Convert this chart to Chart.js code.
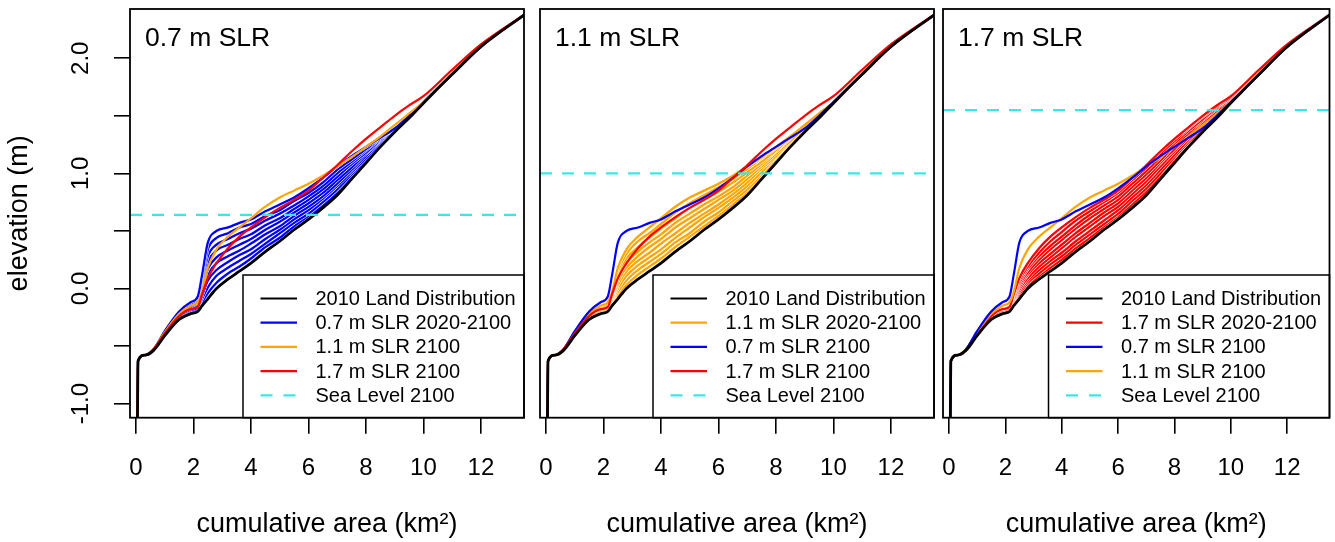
<!DOCTYPE html>
<html>
<head>
<meta charset="utf-8">
<script src="https://cdn.jsdelivr.net/npm/chart.js@4.4.1/dist/chart.umd.min.js"></script>
<style>
  body { margin: 0; background: #fff; }
  canvas { position: absolute; top: 0; }
</style>
</head>
<body>
<canvas id="p1" width="530" height="542" style="left:0px"></canvas>
<canvas id="p2" width="410" height="542" style="left:530px"></canvas>
<canvas id="p3" width="395" height="542" style="left:940px"></canvas>
<script>
// cumulative area (km2) where each curve is sampled
var area = [0.05, 0.07, 0.3, 0.6, 1.0, 1.5, 1.9, 2.15, 2.3, 2.5, 2.8, 3.2, 3.6, 4.0, 4.5, 5.0,
  5.5, 6.0, 6.5, 7.0, 7.5, 8.0, 8.5, 9.0, 9.5, 10.0, 11.0, 12.0, 13.52];

var years = [2020, 2030, 2040, 2050, 2060, 2070, 2080, 2090, 2100];

// elevation (m)
var land2010 = [-1.12, -0.63, -0.58, -0.54, -0.41, -0.27, -0.22, -0.20, -0.15, -0.09, 0.00, 0.08, 0.15, 0.22, 0.32, 0.41,
  0.51, 0.60, 0.70, 0.81, 0.95, 1.09, 1.23, 1.36, 1.48, 1.61, 1.86, 2.10, 2.38];

// 0.7 m SLR, one row per year (2020 ... 2100)
var slr07 = [
  [-1.12, -0.63, -0.58, -0.54, -0.41, -0.26, -0.21, -0.19, -0.12, -0.04, 0.05, 0.13, 0.19, 0.26, 0.36, 0.44, 0.54, 0.63, 0.72, 0.83, 0.97, 1.10, 1.24, 1.37, 1.48, 1.61, 1.86, 2.10, 2.38],
  [-1.12, -0.63, -0.58, -0.54, -0.40, -0.26, -0.20, -0.17, -0.09, 0.01, 0.11, 0.18, 0.24, 0.30, 0.39, 0.48, 0.57, 0.65, 0.75, 0.86, 0.99, 1.12, 1.25, 1.37, 1.49, 1.61, 1.86, 2.10, 2.38],
  [-1.12, -0.63, -0.58, -0.54, -0.40, -0.25, -0.19, -0.16, -0.06, 0.07, 0.16, 0.23, 0.29, 0.34, 0.43, 0.51, 0.60, 0.68, 0.78, 0.89, 1.01, 1.13, 1.26, 1.38, 1.49, 1.62, 1.86, 2.10, 2.38],
  [-1.12, -0.63, -0.58, -0.54, -0.39, -0.24, -0.18, -0.14, -0.03, 0.12, 0.22, 0.28, 0.33, 0.39, 0.47, 0.54, 0.63, 0.71, 0.80, 0.91, 1.03, 1.15, 1.27, 1.38, 1.49, 1.62, 1.86, 2.10, 2.38],
  [-1.12, -0.63, -0.58, -0.54, -0.39, -0.23, -0.17, -0.13, 0.00, 0.17, 0.27, 0.33, 0.38, 0.43, 0.51, 0.58, 0.66, 0.74, 0.83, 0.94, 1.05, 1.17, 1.28, 1.38, 1.49, 1.62, 1.86, 2.10, 2.38],
  [-1.12, -0.63, -0.58, -0.54, -0.39, -0.23, -0.16, -0.11, 0.03, 0.23, 0.33, 0.38, 0.43, 0.47, 0.55, 0.61, 0.69, 0.77, 0.86, 0.97, 1.08, 1.18, 1.29, 1.39, 1.49, 1.62, 1.86, 2.10, 2.38],
  [-1.12, -0.63, -0.58, -0.54, -0.38, -0.22, -0.15, -0.10, 0.06, 0.28, 0.38, 0.43, 0.48, 0.52, 0.59, 0.65, 0.72, 0.80, 0.89, 1.00, 1.10, 1.20, 1.30, 1.39, 1.50, 1.62, 1.86, 2.10, 2.38],
  [-1.12, -0.63, -0.58, -0.54, -0.38, -0.21, -0.13, -0.08, 0.09, 0.34, 0.44, 0.48, 0.53, 0.56, 0.63, 0.68, 0.76, 0.83, 0.92, 1.03, 1.12, 1.21, 1.31, 1.39, 1.50, 1.62, 1.86, 2.10, 2.38],
  [-1.12, -0.63, -0.58, -0.53, -0.37, -0.20, -0.12, -0.07, 0.12, 0.40, 0.50, 0.53, 0.57, 0.60, 0.67, 0.73, 0.79, 0.87, 0.96, 1.06, 1.15, 1.23, 1.31, 1.39, 1.50, 1.62, 1.86, 2.10, 2.38]
];

// 1.1 m SLR, one row per year (2020 ... 2100)
var slr11 = [
  [-1.12, -0.63, -0.58, -0.54, -0.41, -0.26, -0.21, -0.19, -0.14, -0.06, 0.03, 0.12, 0.19, 0.26, 0.36, 0.45, 0.54, 0.63, 0.73, 0.84, 0.97, 1.11, 1.24, 1.37, 1.48, 1.61, 1.86, 2.10, 2.38],
  [-1.12, -0.63, -0.58, -0.54, -0.40, -0.26, -0.21, -0.18, -0.12, -0.03, 0.07, 0.16, 0.23, 0.30, 0.40, 0.48, 0.58, 0.66, 0.76, 0.86, 0.99, 1.12, 1.25, 1.37, 1.49, 1.61, 1.86, 2.10, 2.38],
  [-1.12, -0.63, -0.58, -0.54, -0.40, -0.25, -0.20, -0.17, -0.11, 0.00, 0.11, 0.20, 0.27, 0.34, 0.44, 0.53, 0.62, 0.70, 0.79, 0.89, 1.01, 1.14, 1.26, 1.38, 1.49, 1.62, 1.86, 2.10, 2.38],
  [-1.12, -0.63, -0.58, -0.54, -0.40, -0.25, -0.19, -0.17, -0.10, 0.03, 0.15, 0.24, 0.31, 0.39, 0.48, 0.57, 0.65, 0.73, 0.82, 0.92, 1.04, 1.15, 1.27, 1.39, 1.50, 1.62, 1.86, 2.10, 2.38],
  [-1.12, -0.63, -0.58, -0.54, -0.39, -0.24, -0.18, -0.16, -0.09, 0.06, 0.18, 0.28, 0.36, 0.43, 0.53, 0.61, 0.69, 0.77, 0.85, 0.95, 1.06, 1.17, 1.28, 1.40, 1.50, 1.62, 1.86, 2.10, 2.38],
  [-1.12, -0.63, -0.58, -0.54, -0.39, -0.24, -0.17, -0.15, -0.07, 0.09, 0.22, 0.32, 0.40, 0.47, 0.57, 0.65, 0.73, 0.80, 0.88, 0.98, 1.08, 1.19, 1.30, 1.41, 1.51, 1.62, 1.87, 2.10, 2.38],
  [-1.12, -0.63, -0.58, -0.54, -0.39, -0.23, -0.17, -0.14, -0.06, 0.12, 0.26, 0.36, 0.44, 0.52, 0.61, 0.70, 0.77, 0.84, 0.92, 1.01, 1.10, 1.20, 1.31, 1.41, 1.51, 1.62, 1.87, 2.10, 2.38],
  [-1.12, -0.63, -0.58, -0.54, -0.38, -0.23, -0.16, -0.13, -0.04, 0.15, 0.30, 0.41, 0.48, 0.56, 0.66, 0.74, 0.81, 0.88, 0.95, 1.04, 1.13, 1.22, 1.32, 1.42, 1.51, 1.62, 1.87, 2.10, 2.38],
  [-1.12, -0.63, -0.58, -0.53, -0.38, -0.22, -0.15, -0.12, -0.03, 0.18, 0.34, 0.45, 0.53, 0.61, 0.71, 0.79, 0.85, 0.91, 0.98, 1.06, 1.14, 1.23, 1.32, 1.42, 1.52, 1.62, 1.87, 2.10, 2.38]
];

// 1.7 m SLR, one row per year (2020 ... 2100)
var slr17 = [
  [-1.12, -0.63, -0.58, -0.54, -0.41, -0.27, -0.22, -0.20, -0.14, -0.07, 0.02, 0.11, 0.18, 0.25, 0.35, 0.44, 0.54, 0.63, 0.73, 0.84, 0.97, 1.11, 1.25, 1.38, 1.49, 1.62, 1.86, 2.10, 2.38],
  [-1.12, -0.63, -0.58, -0.54, -0.41, -0.26, -0.21, -0.19, -0.13, -0.05, 0.05, 0.13, 0.21, 0.28, 0.38, 0.47, 0.56, 0.65, 0.76, 0.87, 1.00, 1.14, 1.27, 1.39, 1.51, 1.63, 1.87, 2.10, 2.38],
  [-1.12, -0.63, -0.58, -0.54, -0.40, -0.26, -0.21, -0.19, -0.12, -0.03, 0.07, 0.16, 0.24, 0.31, 0.41, 0.50, 0.59, 0.68, 0.79, 0.90, 1.03, 1.16, 1.29, 1.41, 1.52, 1.64, 1.87, 2.11, 2.38],
  [-1.12, -0.63, -0.58, -0.54, -0.40, -0.26, -0.20, -0.18, -0.11, -0.01, 0.09, 0.19, 0.27, 0.35, 0.45, 0.54, 0.63, 0.71, 0.82, 0.93, 1.06, 1.19, 1.31, 1.42, 1.53, 1.64, 1.88, 2.11, 2.38],
  [-1.12, -0.63, -0.58, -0.54, -0.40, -0.25, -0.20, -0.18, -0.10, 0.01, 0.12, 0.22, 0.30, 0.38, 0.48, 0.57, 0.66, 0.74, 0.85, 0.96, 1.09, 1.21, 1.33, 1.44, 1.54, 1.65, 1.88, 2.11, 2.38],
  [-1.12, -0.63, -0.58, -0.54, -0.40, -0.25, -0.19, -0.17, -0.09, 0.03, 0.14, 0.25, 0.34, 0.42, 0.52, 0.61, 0.69, 0.77, 0.88, 0.99, 1.11, 1.24, 1.35, 1.46, 1.56, 1.65, 1.89, 2.11, 2.38],
  [-1.12, -0.63, -0.58, -0.54, -0.39, -0.25, -0.19, -0.17, -0.07, 0.05, 0.17, 0.28, 0.37, 0.45, 0.55, 0.64, 0.72, 0.80, 0.91, 1.02, 1.14, 1.26, 1.37, 1.47, 1.57, 1.66, 1.89, 2.12, 2.38],
  [-1.12, -0.63, -0.58, -0.54, -0.39, -0.24, -0.18, -0.16, -0.06, 0.07, 0.19, 0.31, 0.41, 0.49, 0.59, 0.67, 0.75, 0.83, 0.94, 1.05, 1.17, 1.28, 1.39, 1.49, 1.58, 1.66, 1.90, 2.12, 2.38],
  [-1.12, -0.63, -0.58, -0.53, -0.39, -0.24, -0.18, -0.16, -0.05, 0.09, 0.22, 0.35, 0.45, 0.53, 0.62, 0.70, 0.77, 0.85, 0.96, 1.07, 1.19, 1.30, 1.40, 1.50, 1.59, 1.67, 1.90, 2.12, 2.38]
];

var seaLevel2100 = [0.64, 1.0, 1.55];
var panelNames = ['0.7 m SLR', '1.1 m SLR', '1.7 m SLR'];
var xTicks = [0, 2, 4, 6, 8, 10, 12];
var yTicks = [-1, -0.5, 0, 0.5, 1, 1.5, 2];

var X_MIN = -0.21, X_MAX = 13.5, Y_MIN = -1.123, Y_MAX = 2.428;
var FONT = "'Liberation Sans', Arial, sans-serif";
var BLUE = '#0000FF', ORANGE = '#FFA500', RED = '#FF0000', CYAN = '#3DE6E6', BLACK = '#000000';
var LAST = years.length - 1;

Chart.defaults.font.family = FONT;
Chart.defaults.color = '#000';

function pts(ys) {
  return area.map(function (x, i) { return { x: x, y: ys[i] }; });
}

function curve(ys, color, width, order) {
  return {
    data: pts(ys), borderColor: color, borderWidth: width, order: order,
    pointRadius: 0, fill: false, cubicInterpolationMode: 'monotone'
  };
}

function seaLine(level) {
  return {
    data: [{ x: X_MIN, y: level }, { x: X_MAX, y: level }],
    borderColor: CYAN, borderWidth: 2.2, borderDash: [12, 10], order: 0,
    pointRadius: 0, fill: false
  };
}

// one line per year, each with a thin white edge so the lines stay apart
function fan(rows, color) {
  var out = [];
  rows.forEach(function (r, i) {
    var o = 20 + 2 * (rows.length - i);
    out.push(curve(r, '#ffffff', 3.4, o + 1));
    out.push(curve(r, color, 2.3, o));
  });
  return out;
}

// legend box, panel name and frame
function decor(name, items) {
  return {
    id: 'decor',
    afterDatasetsDraw: function (chart) {
      var ctx = chart.ctx, a = chart.chartArea;
      var lx = a.right - 281, ly = 275;
      ctx.save();
      ctx.fillStyle = '#fff';
      ctx.fillRect(lx, ly, a.right - lx, a.bottom - ly);
      ctx.strokeStyle = '#000';
      ctx.lineWidth = 1.5;
      ctx.strokeRect(lx, ly, a.right - lx, a.bottom - ly);
      ctx.font = '20px ' + FONT;
      ctx.textBaseline = 'middle';
      items.forEach(function (it, i) {
        var y = ly + 23.5 + i * 24.2;
        ctx.strokeStyle = it[1];
        ctx.lineWidth = 2.2;
        ctx.setLineDash(it[2] ? [12, 11] : []);
        ctx.beginPath();
        ctx.moveTo(lx + 17.5, y);
        ctx.lineTo(lx + 54, y);
        ctx.stroke();
        ctx.setLineDash([]);
        ctx.fillStyle = '#000';
        ctx.fillText(it[0], lx + 72.5, y + 1);
      });
      ctx.fillStyle = '#000';
      ctx.font = '26.5px ' + FONT;
      ctx.textBaseline = 'alphabetic';
      ctx.fillText(name, a.left + 15, a.top + 37);
      ctx.strokeStyle = '#000';
      ctx.lineWidth = 1.8;
      ctx.strokeRect(a.left, a.top, a.right - a.left, a.bottom - a.top);
      ctx.restore();
    }
  };
}

function makePanel(id, name, datasets, items, padding, showY) {
  var yScale = { type: 'linear', min: Y_MIN, max: Y_MAX, display: false };
  if (showY) {
    yScale = {
      type: 'linear', min: Y_MIN, max: Y_MAX,
      afterBuildTicks: function (s) { s.ticks = yTicks.map(function (v) { return { value: v }; }); },
      afterFit: function (s) { s.width = 130; s.paddingTop = 0; s.paddingBottom = 0; },
      grid: { drawOnChartArea: false, color: '#000', lineWidth: 1.6, tickLength: 16 },
      border: { display: false },
      ticks: {
        font: { size: 24 }, padding: 12, autoSkip: false, minRotation: 90, maxRotation: 90,
        crossAlign: 'center',
        callback: function (v) { return v % 1 === 0 ? v.toFixed(1) : ''; }
      },
      title: { display: true, text: 'elevation (m)', font: { size: 27 }, padding: { top: 3 } }
    };
  }
  return new Chart(document.getElementById(id), {
    type: 'line',
    data: { datasets: datasets },
    options: {
      responsive: false, animation: false, devicePixelRatio: 1,
      layout: { padding: padding },
      plugins: { legend: { display: false }, tooltip: { enabled: false } },
      scales: {
        x: {
          type: 'linear', min: X_MIN, max: X_MAX,
          afterBuildTicks: function (s) { s.ticks = xTicks.map(function (v) { return { value: v }; }); },
          afterFit: function (s) { s.height = 124.3; s.paddingLeft = 0; s.paddingRight = 0; },
          grid: { drawOnChartArea: false, color: '#000', lineWidth: 1.6, tickLength: 16 },
          border: { display: false },
          ticks: { font: { size: 24 }, padding: 20, autoSkip: false, maxRotation: 0 },
          title: { display: true, text: 'cumulative area (km²)', font: { size: 27 }, padding: { bottom: 1 } }
        },
        y: yScale
      }
    },
    plugins: [decor(name, items)]
  });
}

// panel 1: 0.7 m SLR
makePanel('p1', panelNames[0],
  [seaLine(seaLevel2100[0]), curve(land2010, BLACK, 2.8, 1),
   curve(slr17[LAST], RED, 2.2, 2), curve(slr11[LAST], ORANGE, 2.2, 3)].concat(fan(slr07, BLUE)),
  [['2010 Land Distribution', BLACK], ['0.7 m SLR 2020-2100', BLUE], ['1.1 m SLR 2100', ORANGE],
   ['1.7 m SLR 2100', RED], ['Sea Level 2100', CYAN, true]],
  { left: 0, right: 6, top: 9, bottom: 0 }, true);

// panel 2: 1.1 m SLR
makePanel('p2', panelNames[1],
  [seaLine(seaLevel2100[1]), curve(land2010, BLACK, 2.8, 1),
   curve(slr17[LAST], RED, 2.2, 2), curve(slr07[LAST], BLUE, 2.2, 3)].concat(fan(slr11, ORANGE)),
  [['2010 Land Distribution', BLACK], ['1.1 m SLR 2020-2100', ORANGE], ['0.7 m SLR 2100', BLUE],
   ['1.7 m SLR 2100', RED], ['Sea Level 2100', CYAN, true]],
  { left: 10, right: 6, top: 9, bottom: 0 }, false);

// panel 3: 1.7 m SLR
makePanel('p3', panelNames[2],
  [seaLine(seaLevel2100[2]), curve(land2010, BLACK, 2.8, 1),
   curve(slr07[LAST], BLUE, 2.2, 2), curve(slr11[LAST], ORANGE, 2.2, 3)].concat(fan(slr17, RED)),
  [['2010 Land Distribution', BLACK], ['1.7 m SLR 2020-2100', RED], ['0.7 m SLR 2100', BLUE],
   ['1.1 m SLR 2100', ORANGE], ['Sea Level 2100', CYAN, true]],
  { left: 3, right: 5.5, top: 9, bottom: 0 }, false);
</script>
</body>
</html>
